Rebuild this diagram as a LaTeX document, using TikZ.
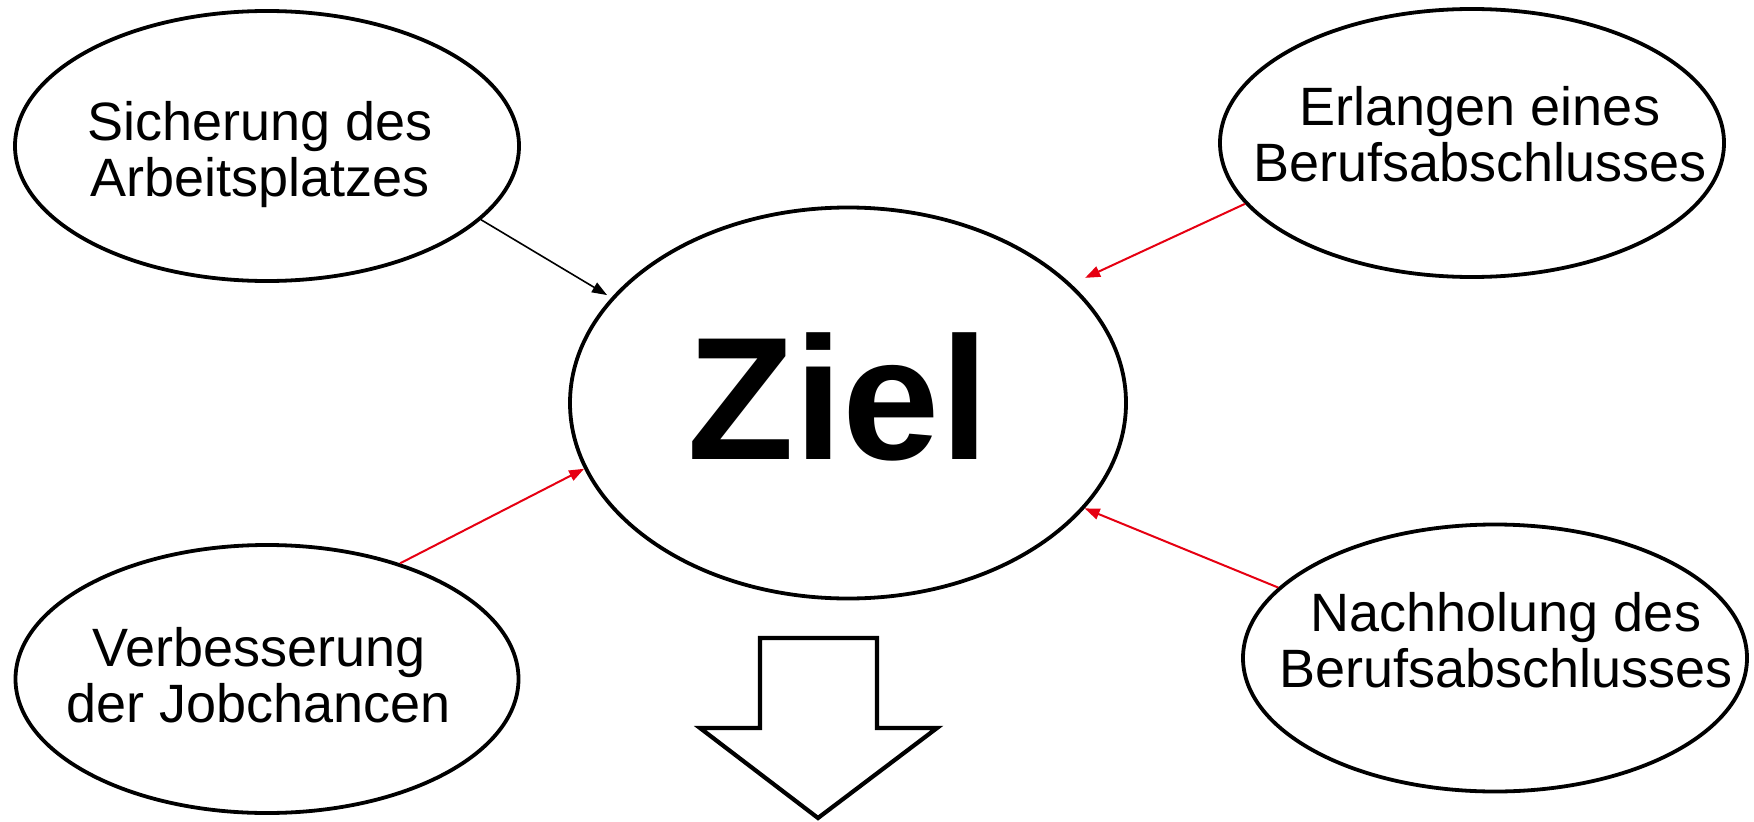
\documentclass[tikz,border=0pt]{standalone}
\usepackage{fontspec}
\setmainfont{Liberation Sans}
\usetikzlibrary{shapes.geometric,arrows.meta}
\definecolor{arrred}{RGB}{230,0,18}
\begin{document}
\begin{tikzpicture}[x=1bp,y=-1bp,
  oval/.style={ellipse,draw=black,line width=3.8bp,fill=white,inner sep=0pt},
  lbl/.style={align=center,inner sep=0pt,font=\fontsize{54bp}{56bp}\selectfont},
  conn/.style={-{Triangle[length=15bp,width=11bp]}},
  blkconn/.style={conn,black,line width=1.6bp},
  redconn/.style={conn,arrred,line width=2bp},
  blockarrow/.style={draw=black,fill=white,line width=4.2bp,line join=miter}]
\useasboundingbox[fill=white] (0,0) rectangle (1754,822);

% ellipses
\node[oval,minimum width=504bp,minimum height=270bp] (tl) at (267,146) {};
\node[oval,minimum width=504bp,minimum height=268bp] (tr) at (1472,143) {};
\node[oval,minimum width=556bp,minimum height=391bp] (ziel) at (848,403) {};
\node[oval,minimum width=503bp,minimum height=268bp] (bl) at (267,679) {};
\node[oval,minimum width=504bp,minimum height=267bp] (br) at (1495,658) {};

% texts
\node[lbl] (tltext) at (260,155) {Sicherung des\\Arbeitsplatzes};
\node[lbl] (trtext) at (1480,134) {Erlangen eines\\Berufsabschlusses};
\node[lbl] (bltext) at (259,675) {Verbesserung\\der Jobchancen};
\node[lbl] (brtext) at (1506,640) {Nachholung des\\Berufsabschlusses};
\node[inner sep=0pt,anchor=base,font=\fontsize{175bp}{175bp}\selectfont\bfseries] (zieltext) at (838,459) {Ziel};

% connectors
\draw[blkconn,shorten >=5bp] (tl.-19.3) -- (ziel.156.9);
\draw[redconn,shorten >=15bp] (tr.195.5) -- (ziel.28);
\draw[redconn] (bl.41.4) -- (ziel.194);
\draw[redconn] (br.162) -- (ziel.-24.9);

% block arrow
\draw[blockarrow] (760,638) -- (877,638) -- (877,728) -- (937,728) -- (818,818) -- (700,728) -- (760,728) -- cycle;
\end{tikzpicture}
\end{document}
